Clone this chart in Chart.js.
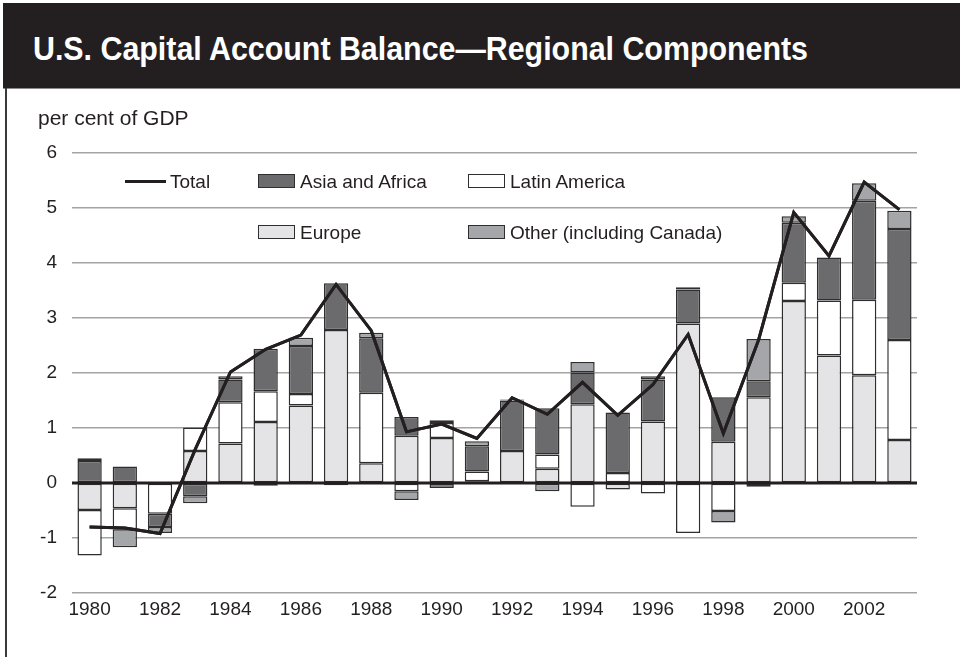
<!DOCTYPE html>
<html>
<head>
<meta charset="utf-8">
<script src="https://cdn.jsdelivr.net/npm/chart.js@4.4.1/dist/chart.umd.min.js"></script>
<style>
  html, body { margin:0; padding:0; background:#fff; }
  #wrap { position:relative; width:960px; height:657px; overflow:hidden; font-family:"Liberation Sans", Arial, Helvetica, sans-serif; color:#231f20; }
  #band { position:absolute; left:3px; top:3px; width:957px; height:85px; background:#231f20; }
  #bandline { position:absolute; left:3px; top:88px; width:957px; height:1px; background:#8a8a8a; }
  #title { position:absolute; left:33px; top:29px; font-weight:bold; font-size:34px; color:#fff; white-space:nowrap; transform-origin:0 0; font-family:"Liberation Sans",Arial,sans-serif; }
  #frame { position:absolute; left:5px; top:88px; width:2px; height:569px; background:#3a3a3a; }
  #unit { position:absolute; left:38px; top:106px; font-size:21px; white-space:nowrap; }
  canvas { position:absolute; left:0; top:0; }
  .lg { position:absolute; font-size:19px; white-space:nowrap; line-height:20px; }
  .box { position:absolute; width:35px; height:12px; border:1.5px solid #2e2e2e; }
  .ln { position:absolute; height:3px; background:#231f20; }
</style>
</head>
<body>
<div id="wrap">
  <canvas id="c" width="960" height="657"></canvas>
  <div id="band"></div>
  <div id="bandline"></div>
  <div id="title">U.S. Capital Account Balance—Regional Components</div>
  <div id="frame"></div>
  <div id="unit">per cent of GDP</div>

  <div class="ln" style="left:125px; top:180px; width:41px;"></div>
  <div class="lg" style="left:170px; top:172px;">Total</div>

  <div class="box" style="left:258px; top:174px; background:#6b6b6d;"></div>
  <div class="lg" style="left:300px; top:172px;">Asia and Africa</div>

  <div class="box" style="left:468px; top:174px; background:#ffffff;"></div>
  <div class="lg" style="left:510px; top:172px;">Latin America</div>

  <div class="box" style="left:258px; top:225px; background:#e4e4e6;"></div>
  <div class="lg" style="left:300px; top:223px;">Europe</div>

  <div class="box" style="left:468px; top:225px; background:#a4a6a9;"></div>
  <div class="lg" style="left:510px; top:223px;">Other (including Canada)</div>
</div>
<script>
// ---- data (per cent of GDP) ----
const years = ['1980','1981','1982','1983','1984','1985','1986','1987','1988','1989','1990','1991',
               '1992','1993','1994','1995','1996','1997','1998','1999','2000','2001','2002','2003'];
const europe = [-0.49,-0.46,null,0.58,0.72,1.11,1.41,2.78,0.36,0.86,0.82,0.03,
                0.58,0.26,1.43,-0.12,1.12,2.90,0.75,1.56,3.31,2.32,1.96,0.78];
const latinAmerica = [-0.83,-0.38,-0.56,0.43,0.75,0.56,0.21,-0.04,1.28,-0.15,0.27,0.18,
                      null,0.26,-0.43,0.18,-0.19,-0.91,-0.51,-0.07,0.33,1.00,1.37,1.82];
const asiaAfrica = [0.40,0.30,-0.24,-0.24,0.41,0.77,0.87,0.85,0.99,0.34,-0.09,0.46,
                    0.92,0.84,0.58,1.10,0.76,0.62,0.81,0.29,1.09,0.78,1.80,2.02];
const other = [0.05,-0.33,-0.11,-0.13,0.06,-0.05,0.15,null,0.10,-0.16,0.05,0.09,
               0.02,-0.15,0.19,null,0.06,0.04,-0.21,0.77,0.12,null,0.32,0.33];
const total = [-0.80,-0.82,-0.92,0.61,2.02,2.43,2.69,3.61,2.77,0.93,1.07,0.81,
               1.55,1.25,1.83,1.23,1.79,2.70,0.90,2.60,4.92,4.13,5.47,4.97];
const yTicks = [-2,-1,0,1,2,3,4,5,6];

// fit title width
(function(){
  const t = document.getElementById('title');
  const w = t.getBoundingClientRect().width;
  t.style.transform = 'scaleX(' + (775 / w) + ')';
})();

const barBase = { type:'bar', borderColor:'#2e2e2e', borderWidth:1.5, borderSkipped:false,
                  barPercentage:0.69, categoryPercentage:1.0, stack:'s', order:1 };

const zeroLine = {
  id:'zeroLine',
  afterDatasetsDraw(chart){
    const y = chart.scales.y.getPixelForValue(0);
    const a = chart.chartArea;
    const ctx = chart.ctx;
    ctx.save();
    ctx.strokeStyle = '#231f20';
    ctx.lineWidth = 3;
    ctx.beginPath(); ctx.moveTo(a.left, y); ctx.lineTo(a.right, y); ctx.stroke();
    ctx.restore();
    const meta = chart.getDatasetMeta(4);
    if (meta && meta.dataset) { meta.dataset.draw(ctx, a); }
  }
};

new Chart(document.getElementById('c'), {
  data: {
    labels: years,
    datasets: [
      Object.assign({}, barBase, { label:'Europe', data:europe, backgroundColor:'#e4e4e6' }),
      Object.assign({}, barBase, { label:'Latin America', data:latinAmerica, backgroundColor:'#ffffff' }),
      Object.assign({}, barBase, { label:'Asia and Africa', data:asiaAfrica, backgroundColor:'#6b6b6d' }),
      Object.assign({}, barBase, { label:'Other (including Canada)', data:other, backgroundColor:'#a4a6a9' }),
      { type:'line', label:'Total', data:total, borderColor:'#231f20', borderWidth:3, pointRadius:0,
        tension:0, fill:false, stack:'t', order:0 }
    ]
  },
  options: {
    responsive:false, animation:false, devicePixelRatio:1,
    layout: { padding: { top:153, right:43, left:0, bottom:0 } },
    plugins: { legend:{ display:false }, tooltip:{ enabled:false } },
    scales: {
      x: {
        stacked:true,
        grid:{ display:false, drawTicks:false },
        border:{ display:false },
        ticks:{ autoSkip:false, maxRotation:0, padding:5, color:'#231f20',
                font:{ family:'"Liberation Sans", Arial, sans-serif', size:19 },
                callback:function(v, i){ return (i % 2 === 0) ? years[i] : ''; } },
        afterFit:function(s){ s.height = 64; }
      },
      y: {
        stacked:true, min:-2, max:6,
        afterBuildTicks:function(s){ s.ticks = yTicks.map(v => ({ value:v })); },
        grid:{ color:'#a3a3a3', lineWidth:1.5, drawTicks:false },
        border:{ display:false },
        ticks:{ padding:15, color:'#231f20',
                font:{ family:'"Liberation Sans", Arial, sans-serif', size:19 } },
        afterFit:function(s){ s.width = 72; }
      }
    }
  },
  plugins:[zeroLine]
});
</script>
</body>
</html>
